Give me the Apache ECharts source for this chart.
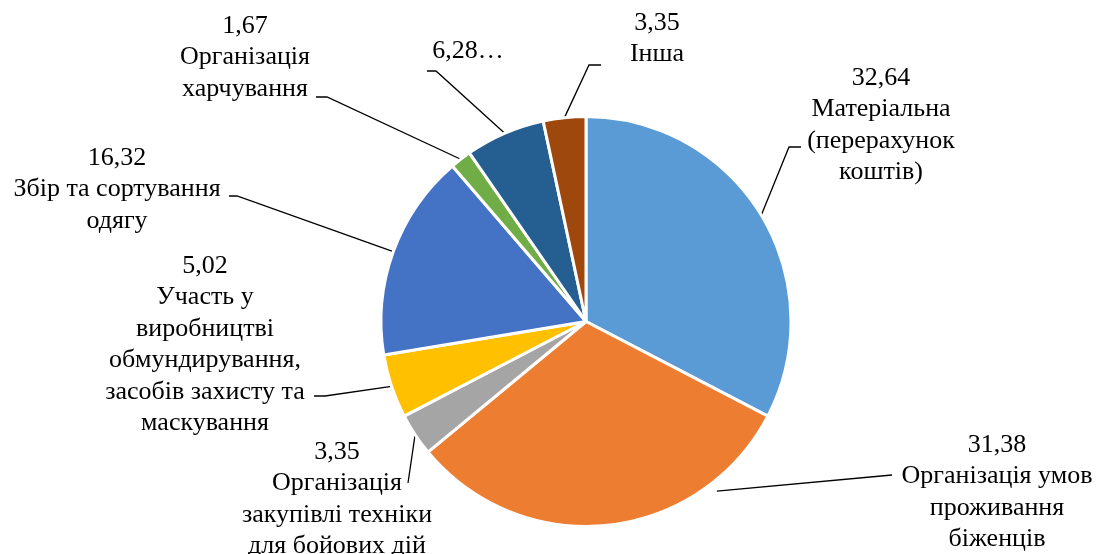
<!DOCTYPE html>
<html>
<head>
<meta charset="utf-8">
<script src="https://cdn.jsdelivr.net/npm/echarts@6/dist/echarts.min.js"></script>
<style>
  html, body { margin: 0; padding: 0; background: #ffffff; }
  #chart { width: 1097px; height: 554px; }
</style>
</head>
<body>
<div id="chart"></div>
<script>
// Slice names (line breaks as they wrap beside the pie) and their shares, %
const categories = [
  'Матеріальна\n(перерахунок\nкоштів)',
  'Організація умов\nпроживання\nбіженців',
  'Організація\nзакупівлі техніки\nдля бойових дій',
  'Участь у\nвиробництві\nобмундирування,\nзасобів захисту та\nмаскування',
  'Збір та сортування\nодягу',
  'Організація\nхарчування',
  '…',
  'Інша'
];
const values = [32.64, 31.38, 3.35, 5.02, 16.32, 1.67, 6.28, 3.35];
const sliceColors = ['#5B9BD5', '#ED7D31', '#A5A5A5', '#FFC000', '#4472C4', '#70AD47', '#255E91', '#9E480E'];

// Where each label block sits: centre x, centre of its first line,
// the leader line's bend and end, and where along the slice the leader starts.
const labelSpots = [
  { x: 881, y: 78,  knee: [789, 147], end: [801, 147], share: 0.5,  reach: 1.0 },
  { x: 997, y: 445, knee: [892, 475], end: [892, 475], share: 0.22, reach: 1.045 },
  { x: 337, y: 452, knee: [408, 483], end: [408, 483], share: 0.5,  reach: 1.0 },
  { x: 205, y: 266, knee: [325, 396], end: [314, 396], share: 0.5,  reach: 1.0 },
  { x: 117, y: 158, knee: [237, 196], end: [229, 196], share: 0.5,  reach: 1.0 },
  { x: 245, y: 26,  knee: [327, 97],  end: [316, 97],  share: 0.5,  reach: 1.0 },
  { x: 468, y: 51,  knee: [436, 71],  end: [427, 71],  share: 0.5,  reach: 1.0 },
  { x: 657, y: 23,  knee: [589, 65],  end: [601, 65],  share: 0.5,  reach: 1.0 }
];

const LINE_H = 31.5;
const LABEL_FONT = 'Liberation Serif, Tinos, Times New Roman, DejaVu Serif, serif';
const chart = echarts.init(document.getElementById('chart'), null, { renderer: 'canvas' });

function formatShare(v) {
  return v.toFixed(2).replace('.', ',');
}

const pieData = values.map((v, i) => ({
  name: categories[i],
  value: v,
  itemStyle: { color: sliceColors[i] }
}));

function leaderAnchor(idx, fallback) {
  const spot = labelSpots[idx];
  try {
    const layout = chart.getModel().getSeriesByIndex(0).getData().getItemLayout(idx);
    if (layout && layout.r) {
      const a = layout.startAngle + (layout.endAngle - layout.startAngle) * spot.share;
      const r = layout.r * spot.reach;
      return [layout.cx + r * Math.cos(a), layout.cy + r * Math.sin(a)];
    }
  } catch (e) { /* fall back to the library's own anchor */ }
  return fallback;
}

chart.setOption({
  animation: false,
  backgroundColor: '#ffffff',
  textStyle: { fontFamily: LABEL_FONT },
  series: [{
    type: 'pie',
    center: [586, 321.5],
    radius: 205,
    startAngle: 90,
    clockwise: true,
    avoidLabelOverlap: false,
    emphasis: { disabled: true },
    itemStyle: { borderColor: '#ffffff', borderWidth: 3 },
    label: {
      show: true,
      position: 'outside',
      fontFamily: LABEL_FONT,
      fontSize: 26,
      lineHeight: LINE_H,
      color: '#000000',
      align: 'center',
      formatter: (p) => formatShare(p.value) + (p.name === '…' ? '…' : '\n' + p.name)
    },
    labelLine: {
      show: true,
      smooth: false,
      lineStyle: { color: '#000000', width: 1.3 }
    },
    labelLayout: (params) => {
      const spot = labelSpots[params.dataIndex];
      const fallback = params.labelLinePoints ? params.labelLinePoints[0] : spot.knee;
      const anchor = leaderAnchor(params.dataIndex, fallback);
      return {
        x: spot.x,
        y: spot.y - LINE_H / 2,
        align: 'center',
        verticalAlign: 'top',
        labelLinePoints: [anchor, spot.knee, spot.end]
      };
    },
    data: pieData
  }]
});
</script>
</body>
</html>
